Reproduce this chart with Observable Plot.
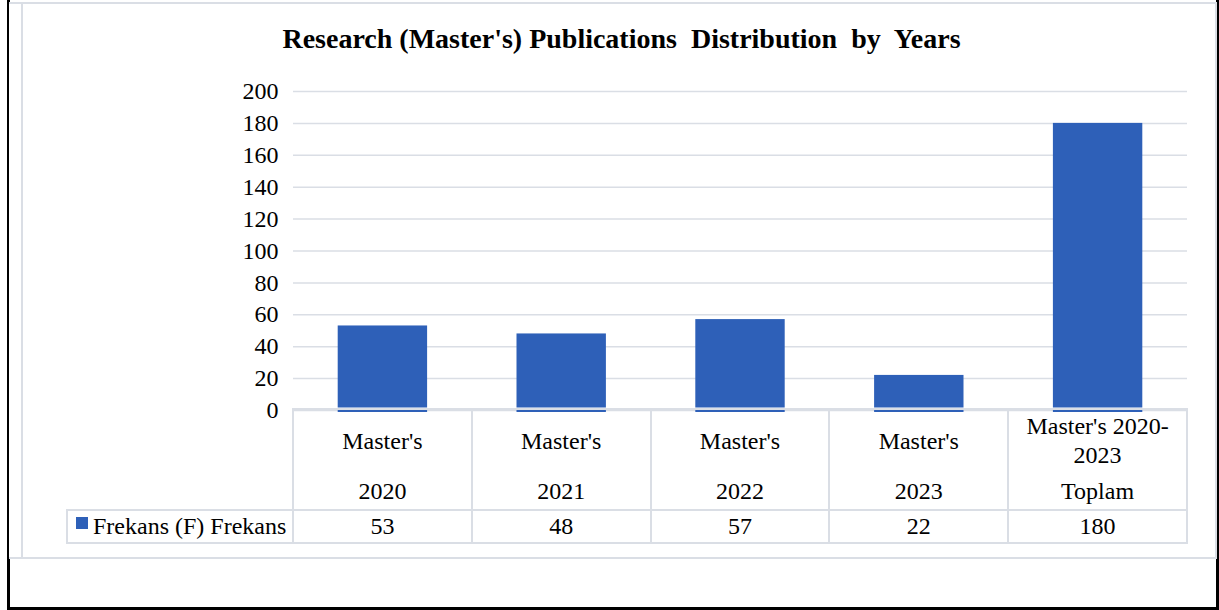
<!DOCTYPE html>
<html><head><meta charset="utf-8">
<script src="https://cdn.jsdelivr.net/npm/d3@7"></script>
<script src="https://cdn.jsdelivr.net/npm/@observablehq/plot@0.6"></script>
<style>
body{margin:0;background:#fff;}
#wrap{position:relative;width:1219px;height:610px;overflow:hidden;font-family:"Liberation Serif","Times New Roman",serif;color:#000;background:#fff;}
#blackframe{position:absolute;left:7px;top:0;width:1206px;height:607px;border:3px solid #000;border-top:none;}
#greybox{position:absolute;left:9px;top:2px;width:1206px;height:553px;border:2px solid #dadee5;border-left:none;background:#fff;}
#greyline{position:absolute;left:21px;top:2px;width:2px;height:555px;background:#dadee5;}
#title{position:absolute;left:21px;width:1201px;top:25px;text-align:center;font-weight:bold;font-size:28px;line-height:28px;white-space:pre;}
#plot{position:absolute;left:0;top:60px;}
#dt{position:absolute;left:0;top:0;width:1219px;height:610px;font-size:24px;pointer-events:none;}
#dt .ln{position:absolute;background:#dadee5;}
#dt .cell{position:absolute;display:flex;align-items:center;justify-content:center;text-align:center;line-height:29px;box-sizing:border-box;padding:0 6px;}
#dt .leg{position:absolute;display:flex;align-items:center;white-space:nowrap;line-height:29px;}
.sw{display:inline-block;width:12px;height:12px;margin-right:5px;position:relative;top:-4px;}
</style></head><body>
<div id="wrap">
  <div id="blackframe"></div>
  <div id="greybox"></div>
  <div id="greyline"></div>
  <div id="title">Research (Master's) Publications  Distribution  by  Years</div>
  <div id="plot"></div>
  <div id="dt"></div>
</div>
<script>
// Data
const categories = ["Master's", "Master's", "Master's", "Master's", "Master's 2020-2023"];
const subLabels = ["2020", "2021", "2022", "2023", "Toplam"];
const values = [53, 48, 57, 22, 180];
const seriesName = "Frekans (F) Frekans";
const yTicks = [0, 20, 40, 60, 80, 100, 120, 140, 160, 180, 200];

const barColor = "#2e60b8";
const gridColor = "#dadee5";

const data = categories.map((c, i) => ({key: c + " " + subLabels[i], cat: c, sub: subLabels[i], value: values[i]}));
const keys = data.map(d => d.key);

const svgTop = 60;
const chart = Plot.plot({
  width: 1219,
  height: 354,
  marginLeft: 293,
  marginRight: 32,
  marginTop: 31,
  marginBottom: 4,
  style: {fontFamily: "'Liberation Serif', 'Times New Roman', serif", fontSize: "24px", color: "#000", background: "transparent", overflow: "visible"},
  x: {domain: keys, paddingInner: 0.5, paddingOuter: 0.25, round: false, axis: null},
  y: {domain: [0, 200], ticks: yTicks, tickSize: 0, tickPadding: 15, label: null},
  marks: [
    Plot.gridY(yTicks, {stroke: gridColor, strokeOpacity: 1, strokeWidth: 1.5}),
    Plot.barY(data, {x: "key", y: "value", fill: barColor, insetBottom: -2}),
    Plot.ruleY([0], {stroke: "#fff", strokeWidth: 1, dy: -2.5})
  ]
});
document.getElementById("plot").appendChild(chart);

// Data table aligned with the x band scale
const xs = chart.scale("x");
const ys = chart.scale("y");
const x0 = xs.range[0];
const step = xs.step;
const n = data.length;
const legendLeft = x0 - 226;
const tTop = svgTop + ys.apply(0) - 1;   // header row top
const sepY = tTop + 101;                   // header / values separator
const tBot = sepY + 33;                    // table bottom
const dt = document.getElementById("dt");

function line(x, y, w, h) {
  const d = document.createElement("div"); d.className = "ln";
  Object.assign(d.style, {left: x + "px", top: y + "px", width: w + "px", height: h + "px"});
  dt.appendChild(d);
}
function cell(x, y, w, h, text, cls) {
  const d = document.createElement("div"); d.className = cls || "cell";
  Object.assign(d.style, {left: x + "px", top: y + "px", width: w + "px", height: h + "px"});
  if (text != null) d.textContent = text;
  dt.appendChild(d);
  return d;
}
const xEnd = x0 + step * n;
line(x0 - 1, tTop - 1, xEnd - x0 + 2, 2);
line(legendLeft - 1, sepY - 1, xEnd - legendLeft + 2, 2);
line(legendLeft - 1, tBot - 1, xEnd - legendLeft + 2, 2);
for (let i = 0; i <= n; i++) line(x0 + i * step - 1, tTop - 1, 2, tBot - tTop + 2);
line(legendLeft - 1, sepY - 1, 2, tBot - sepY + 2);

data.forEach((d, i) => {
  const cx = x0 + i * step;
  cell(cx, tTop, step, 64, d.cat);
  cell(cx, tTop + 64, step, 37, d.sub);
  cell(cx, sepY, step, 33, String(d.value));
});
const lg = cell(legendLeft + 9, sepY, x0 - legendLeft - 9, 33, null, "leg");
const sw = document.createElement("span"); sw.className = "sw"; sw.style.background = barColor;
lg.appendChild(sw); lg.appendChild(document.createTextNode(seriesName));
</script>
</body></html>
